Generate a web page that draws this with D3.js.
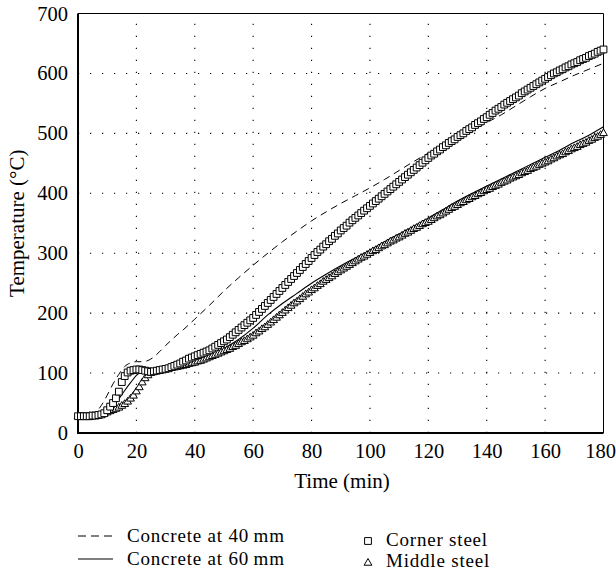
<!DOCTYPE html>
<html>
<head>
<meta charset="utf-8">
<script src="https://cdn.jsdelivr.net/npm/d3@7/dist/d3.min.js"></script>
<style>
  html, body { margin: 0; padding: 0; background: #fff; }
  svg { display: block; }
  text { font-family: "Liberation Serif", "DejaVu Serif", serif; fill: #000; }
</style>
</head>
<body>
<svg id="chart" width="616" height="571"></svg>
<script>
// ---- Data ----
const xTicks = [0, 20, 40, 60, 80, 100, 120, 140, 160, 180];
const yTicks = [0, 100, 200, 300, 400, 500, 600, 700];

const concreteTimes = [0,2,4,6,8,10,12,14,16,18,20,22,24,26,28,30,32,34,36,38,40,45,50,55,60,65,70,75,80,85,90,95,100,105,110,115,120,125,130,135,140,145,150,155,160,165,170,175,180];
const concrete40 = [28,28,29,34,46,63,82,98,111,117,119,119,121,127,136,146,155,164,172,181,190,213,237,259,280,300,319,337,354,369,383,396,409,423,438,453,467,479,492,505,518,531,546,561,575,586,597,607,617];
const concrete60 = [28,28,28,29,32,37,45,57,71,84,96,104,106,105,105,106,107,109,111,114,118,128,141,156,175,197,216,233,250,265,279,292,305,319,332,345,359,373,387,400,412,424,436,448,460,472,485,497,511];

// steel measured every minute, 0..180
const cornerSteel = [
  28,28,28,28,28,29,29,30,31,33,
  38,44,50,58,69,85,95,101,104,105,
  106,106,105,104,103,102,103,104,105,106,
  107,108,110,112,114,116,119,121,124,126,
  128,130,132,134,136,138,141,144,147,150,
  153,156,160,164,168,172,176,180,184,188,
  192,197,202,207,212,217,222,227,232,237,
  242,247,252,257,262,267,272,277,282,287,
  292,297,302,306,311,315,320,324,329,333,
  338,342,346,351,355,359,363,367,371,375,
  379,383,387,391,395,399,403,407,411,415,
  419,423,427,431,435,439,443,447,451,455,
  459,463,466,470,473,477,480,484,487,490,
  494,497,500,504,507,510,514,517,520,524,
  527,531,534,538,541,544,548,551,554,557,
  560,563,567,570,573,576,579,582,585,588,
  591,594,597,600,602,605,607,610,612,615,
  617,619,622,624,626,629,631,633,636,638,
  640];
const middleSteel = [
  28,27,27,27,28,28,28,29,30,32,
  34,36,38,40,42,45,48,52,57,62,
  69,76,84,91,96,100,102,103,104,105,
  106,107,108,109,110,111,112,113,115,116,
  117,119,120,122,124,126,128,130,132,134,
  136,138,140,143,145,148,151,153,156,159,
  162,166,169,173,176,180,184,188,192,196,
  200,204,208,212,216,219,223,227,231,234,
  238,241,245,248,252,255,258,261,265,268,
  271,274,277,280,283,286,289,292,294,297,
  300,303,305,308,311,313,316,319,321,324,
  326,329,332,334,337,340,342,345,348,350,
  352,355,358,361,363,366,369,372,375,377,
  380,383,385,388,390,393,395,398,400,403,
  405,407,410,412,414,417,419,421,424,426,
  428,430,433,435,437,440,442,444,447,449,
  451,453,456,458,461,463,465,468,470,473,
  475,477,480,482,484,487,489,492,494,497,
  500];

const seriesNames = ["Concrete at 40\u2009mm", "Concrete at 60\u2009mm", "Corner steel", "Middle steel"];

// ---- Layout ----
const svg = d3.select("#chart");
const L = 78, R = 603.5, T = 13.5, B = 433;
const x = d3.scaleLinear().domain([0, 180]).range([L, R]);
const y = d3.scaleLinear().domain([0, 700]).range([B, T]);
const FS = 20.5;   // tick labels
const FT = 21;     // axis titles
const FL = 19;     // legend

// grid (dotted)
const grid = svg.append("g");
grid.selectAll("line.v").data(xTicks.slice(1, -1)).join("line")
  .attr("x1", d => x(d)).attr("x2", d => x(d)).attr("y1", B).attr("y2", T)
  .attr("stroke", "#000").attr("stroke-width", 1.1).attr("stroke-dasharray", "1.2,10.8");
grid.selectAll("line.h").data(yTicks.slice(1, -1)).join("line")
  .attr("x1", L).attr("x2", R).attr("y1", d => y(d)).attr("y2", d => y(d))
  .attr("stroke", "#000").attr("stroke-width", 1.1).attr("stroke-dasharray", "1.2,10.8");

// axes via d3
const xAxis = svg.append("g").attr("transform", `translate(0,${B})`)
  .call(d3.axisBottom(x).tickValues(xTicks).tickSize(0).tickPadding(10));
const yAxis = svg.append("g").attr("transform", `translate(${L},0)`)
  .call(d3.axisLeft(y).tickValues(yTicks).tickSize(0).tickPadding(10));
[xAxis, yAxis].forEach(g => {
  g.select(".domain").remove();
  g.selectAll("text").style("font-family", '"Liberation Serif", serif').style("font-size", FS + "px").attr("fill", "#000");
});
xAxis.selectAll("text").attr("dy", "0.71em");
// keep the last label inside the page
xAxis.selectAll(".tick").filter(d => d === 180).select("text").attr("text-anchor", "end").attr("x", 12);

// frame
svg.append("line").attr("x1", L).attr("x2", R).attr("y1", T).attr("y2", T).attr("stroke", "#000").attr("stroke-width", 1);
svg.append("line").attr("x1", R).attr("x2", R).attr("y1", T).attr("y2", B).attr("stroke", "#000").attr("stroke-width", 1);
svg.append("line").attr("x1", L).attr("x2", L).attr("y1", T).attr("y2", B + 1).attr("stroke", "#000").attr("stroke-width", 2);
svg.append("line").attr("x1", L - 1).attr("x2", R).attr("y1", B).attr("y2", B).attr("stroke", "#000").attr("stroke-width", 2);

// lines
const line = d3.line().x(d => x(d[0])).y(d => y(d[1])).curve(d3.curveMonotoneX);
const c40 = concreteTimes.map((t, i) => [t, concrete40[i]]);
const c60 = concreteTimes.map((t, i) => [t, concrete60[i]]);
svg.append("path").attr("d", line(c40)).attr("fill", "none").attr("stroke", "#000").attr("stroke-width", 1).attr("stroke-dasharray", "7,5");
svg.append("path").attr("d", line(c60)).attr("fill", "none").attr("stroke", "#000").attr("stroke-width", 1.1);

// markers
const sqSym = d3.symbol().type(d3.symbolSquare).size(46);
const triSym = d3.symbol().type(d3.symbolTriangle).size(26);
svg.append("g").selectAll("path").data(middleSteel.map((v, i) => [i, v])).join("path")
  .attr("d", triSym).attr("transform", d => `translate(${x(d[0])},${y(d[1])})`)
  .attr("fill", "#fff").attr("stroke", "#000").attr("stroke-width", 1);
svg.append("g").selectAll("path").data(cornerSteel.map((v, i) => [i, v])).join("path")
  .attr("d", sqSym).attr("transform", d => `translate(${x(d[0])},${y(d[1])})`)
  .attr("fill", "#fff").attr("stroke", "#000").attr("stroke-width", 1);

// axis titles
svg.append("text").attr("x", 342).attr("y", 488).attr("text-anchor", "middle")
  .style("font-size", FT + "px").text("Time (min)");
svg.append("text").attr("transform", `translate(24,${(T + B) / 2}) rotate(-90)`).attr("text-anchor", "middle")
  .style("font-size", FT + "px").text("Temperature (\u00B0C)");

// legend
const lg = svg.append("g");
lg.append("line").attr("x1", 78).attr("x2", 113).attr("y1", 536).attr("y2", 536)
  .attr("stroke", "#000").attr("stroke-width", 1).attr("stroke-dasharray", "8,5");
lg.append("line").attr("x1", 78).attr("x2", 113).attr("y1", 559).attr("y2", 559)
  .attr("stroke", "#000").attr("stroke-width", 1.1);
lg.selectAll("text.l").data([seriesNames[0], seriesNames[1]]).join("text")
  .attr("x", 127).attr("y", (d, i) => 542 + i * 23)
  .style("font-size", FL + "px").style("letter-spacing", "0.8px").text(d => d);
lg.append("path").attr("d", sqSym).attr("transform", "translate(368,541)").attr("fill", "#fff").attr("stroke", "#000");
lg.append("path").attr("d", triSym).attr("transform", "translate(368,563)").attr("fill", "#fff").attr("stroke", "#000");
lg.selectAll("text.r").data([seriesNames[2], seriesNames[3]]).join("text")
  .attr("x", 386).attr("y", (d, i) => 546 + i * 20.5)
  .style("font-size", FL + "px").style("letter-spacing", "0.8px").text(d => d);
</script>
</body>
</html>
